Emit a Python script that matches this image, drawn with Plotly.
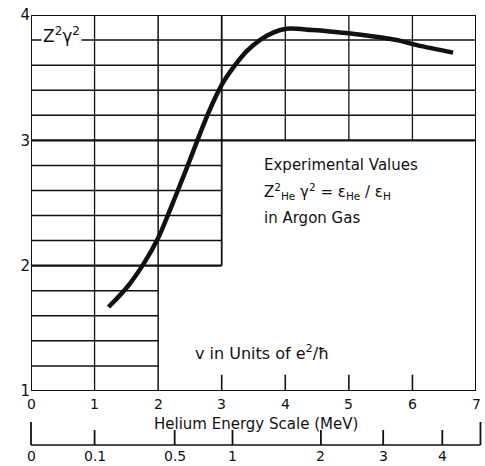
import plotly.graph_objects as go

# Curve: v (units of e^2/hbar) vs Z^2 gamma^2
curve_v = [1.22, 1.53, 1.79, 2.00, 2.11, 2.27, 2.42, 2.58, 2.71, 2.87, 3.02, 3.21,
           3.39, 3.60, 3.81, 4.02, 4.43, 4.86, 5.22, 5.75, 6.07, 6.64]
curve_y = [1.67, 1.84, 2.03, 2.22, 2.35, 2.55, 2.74, 2.95, 3.12, 3.31, 3.46, 3.60,
           3.71, 3.80, 3.86, 3.89, 3.88, 3.86, 3.84, 3.80, 3.76, 3.70]

# Upper (velocity) axis
v_ticks = [0, 1, 2, 3, 4, 5, 6, 7]
v_labels = ["0", "1", "2", "3", "4", "5", "6", "7"]
y_ticks = [1, 2, 3, 4]
y_labels = ["1", "2", "3", "4"]

# Lower helium energy scale: label and position on the v axis
energy_labels = ["0", "0.1", "0.5", "1", "2", "3", "4"]
energy_pos_v = [0.0, 1.0, 2.26, 3.17, 4.56, 5.54, 6.47]
energy_end_v = 7.07

INK = "#111111"
FONT = "DejaVu Sans"

fig = go.Figure()
fig.add_trace(go.Scatter(x=curve_v, y=curve_y, mode="lines",
                         line=dict(color=INK, width=4.5, shape="spline", smoothing=1.0),
                         hoverinfo="skip", showlegend=False))

shapes = []
def seg(x0, y0, x1, y1, w=1.5, ref=("x", "y")):
    shapes.append(dict(type="line", xref=ref[0], yref=ref[1], x0=x0, y0=y0, x1=x1, y1=y1,
                       line=dict(color=INK, width=w), layer="below"))

# horizontal grid lines (every 0.2), extent depends on region
for k in range(1, 15):
    yv = 1 + 0.2 * k
    if yv < 1.99:
        xe = 2
    elif yv < 2.99:
        xe = 3
    else:
        xe = 7
    w = 2.2 if abs(yv - 2) < 1e-6 or abs(yv - 3) < 1e-6 else 1.5
    seg(0, yv, xe, yv, w)
# vertical grid lines
seg(1, 1, 1, 4, 1.3)
seg(2, 1, 2, 4, 1.5)
seg(3, 2, 3, 4, 1.8)
for xv in [4, 5, 6]:
    seg(xv, 3, xv, 4, 1.3)
# inward ticks on bottom axis
for xv in [3, 4, 5, 6]:
    seg(xv, 1, xv, 1.13, 1.6)
# frame
seg(0, 1, 0, 4, 2)
seg(7, 1, 7, 4, 2)
seg(0, 4, 7, 4, 2.2)
seg(0, 1, 7, 1, 1.8)

# lower energy axis (paper coordinates)
PLOT_H = 376.0
def py(pix):
    return (391 - pix) / PLOT_H
y_line = py(445)
seg(0, y_line, energy_end_v / 7, y_line, 1.6, ("paper", "paper"))
for i, pv in enumerate(energy_pos_v):
    top = py(422) if i == 0 else py(430)
    seg(pv / 7, y_line, pv / 7, top, 1.8, ("paper", "paper"))
seg(energy_end_v / 7, y_line, energy_end_v / 7, py(422), 1.8, ("paper", "paper"))

annotations = []
def lab_at(x, y, text, size, xanchor="center"):
    annotations.append(dict(x=x, y=y, xref="paper", yref="paper", text=text,
                            xanchor=xanchor, yanchor="middle", showarrow=False,
                            font=dict(family=FONT, size=size, color=INK)))

for lab, pv in zip(energy_labels, energy_pos_v):
    lab_at(pv / 7, py(456), lab, 14)
for lab, pv in zip(v_labels, v_ticks):
    lab_at(pv / 7, py(404), lab, 14)
lab_at(3.54 / 7, py(424), "Helium Energy Scale (MeV)", 15)

def note(x, y, text, size, bg=None):
    d = dict(x=x, y=y, xref="x", yref="y", xanchor="left", yanchor="middle",
             text=text, showarrow=False, font=dict(family=FONT, size=size, color=INK))
    if bg:
        d["bgcolor"] = bg
    annotations.append(d)

note(0.15, 3.84, "Z<sup>2</sup>γ<sup>2</sup>", 17, "white")
note(3.63, 2.80, "Experimental Values", 15)
note(3.63, 2.59, "Z<sup>2</sup><sub>He</sub> γ<sup>2</sup> = ε<sub>He</sub> / ε<sub>H</sub>", 15)
note(3.63, 2.38, "in Argon Gas", 15)
note(2.55, 1.31, "v in Units of e<sup>2</sup>/ħ", 16)

fig.update_layout(
    width=485, height=466,
    margin=dict(l=31, r=9, t=15, b=75),
    paper_bgcolor="white", plot_bgcolor="white",
    shapes=shapes, annotations=annotations,
    xaxis=dict(range=[0, 7], showgrid=False, zeroline=False, showline=False,
               ticks="", showticklabels=False, automargin=False),
    yaxis=dict(range=[1, 4], tickvals=y_ticks, ticktext=y_labels, showgrid=False,
               zeroline=False, showline=False, ticks="", automargin=False,
               tickfont=dict(family=FONT, size=15, color=INK)),
    font=dict(family=FONT, color=INK),
)
fig.write_html("out.html", config={"displayModeBar": False},
               post_script="document.body.style.margin='0px';document.body.style.overflow='hidden';")
